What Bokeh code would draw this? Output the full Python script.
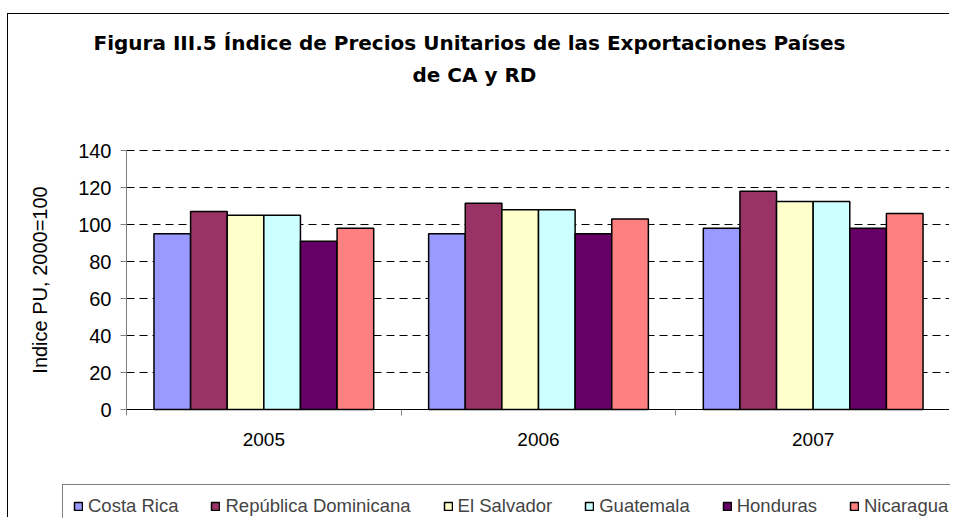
from bokeh.plotting import figure
from bokeh.models import Range1d, FixedTicker, Legend, LegendItem, Title, ColumnDataSource
from bokeh.transform import dodge
from bokeh.embed import file_html
from bokeh.resources import INLINE

# ---- data ----
years = ["2005", "2006", "2007"]
countries = ["Costa Rica", "República Dominicana", "El Salvador",
             "Guatemala", "Honduras", "Nicaragua"]
costa_rica = [95, 95, 98]
republica_dominicana = [107, 111.5, 118]
el_salvador = [105, 108, 112.5]
guatemala = [105, 108, 112.5]
honduras = [91, 95, 98]
nicaragua = [98, 103, 106]
colors = ["#9999FF", "#993366", "#FFFFCC", "#CCFFFF", "#660066", "#FF8080"]
y_ticks = [0, 20, 40, 60, 80, 100, 120, 140]
title_line1 = "Figura III.5  Índice de Precios Unitarios de las Exportaciones Países"
title_line2 = "de CA y RD"
y_label = "Indice PU, 2000=100"

series = [costa_rica, republica_dominicana, el_salvador, guatemala, honduras, nicaragua]
n = len(series)
x_center = [i + 0.5 for i in range(len(years))]
boundaries = [float(i) for i in range(len(years) + 1)]
data = {"x": x_center}
for k, s in enumerate(series):
    data[f"s{k}"] = s
source = ColumnDataSource(data)

FONT = "Liberation Sans"
TFONT = "DejaVu Sans"

# ---- layout (pixels) ----
W, H = 942, 504
FRAME_TOP = 120           # top of the drawing area (titles above it)
GRID_TOP = 136            # where the highest tick sits
AXIS_X = 118              # where the value axis sits
AXIS_Y = 395              # where the category axis sits
y_max = y_ticks[-1]
px_per_unit_y = (AXIS_Y - GRID_TOP) / y_max
x_end = len(years)
x_start = -AXIS_X * x_end / (W - AXIS_X)
y_start = -(H - AXIS_Y) / px_per_unit_y
y_end = y_max + (GRID_TOP - FRAME_TOP) / px_per_unit_y

p = figure(width=W, height=H,
           x_range=Range1d(x_start, x_end), y_range=Range1d(y_start, y_end),
           output_backend="svg", toolbar_location=None, title=None,
           min_border_left=0, min_border_right=0,
           min_border_top=FRAME_TOP, min_border_bottom=0,
           background_fill_color="white", border_fill_color="white",
           outline_line_color=None)
p.styles = {"border-left": "1px solid black", "border-top": "1px solid black",
            "margin-left": "7px", "margin-top": "13px"}

# dashed grid lines across the category span
p.xgrid.grid_line_color = None
p.ygrid.grid_line_color = None
grid_src = ColumnDataSource(dict(y=y_ticks, x0=[0] * len(y_ticks), x1=[x_end] * len(y_ticks)))
p.segment(x0="x0", y0="y", x1="x1", y1="y", source=grid_src,
          line_color="black", line_width=1, line_dash="8 5")

group = 0.8
bw = group / n
renderers = []
for k, s in enumerate(series):
    off = (k - (n - 1) / 2) * bw
    r = p.vbar(x=dodge("x", off), top=f"s{k}", width=bw, source=source,
               fill_color=colors[k], line_color="black", line_width=1.5)
    renderers.append(r)

# y axis
ya = p.yaxis[0]
ya.fixed_location = 0
ya.bounds = (0, y_max)
ya.ticker = FixedTicker(ticks=y_ticks)
ya.axis_line_color = "#808080"
ya.major_tick_line_color = "#808080"
ya.major_tick_out = 6
ya.major_tick_in = 0
ya.minor_tick_line_color = None
ya.major_label_text_font = FONT
ya.major_label_text_font_size = "20px"
ya.major_label_text_color = "black"
ya.major_label_standoff = 9
ya.axis_label = y_label
ya.axis_label_text_font = FONT
ya.axis_label_text_font_size = "20px"
ya.axis_label_text_font_style = "normal"
ya.axis_label_text_color = "black"
ya.axis_label_standoff = 24

# x axis
xa = p.xaxis[0]
xa.fixed_location = 0
xa.bounds = (0, x_end)
xa.ticker = FixedTicker(ticks=x_center, minor_ticks=boundaries)
xa.major_label_overrides = {c: y for c, y in zip(x_center, years)}
xa.major_tick_line_color = None
xa.major_tick_out = 0
xa.major_tick_in = 0
xa.minor_tick_line_color = "#808080"
xa.minor_tick_out = 6
xa.minor_tick_in = 0
xa.axis_line_color = "black"
xa.major_label_text_font = FONT
xa.major_label_text_font_size = "19px"
xa.major_label_text_color = "black"
xa.major_label_standoff = 17

# titles (first added is nearest the frame); a blank spacer first
spacer = Title(text=" ", standoff=35 - (GRID_TOP - FRAME_TOP), text_color="white",
               text_font=TFONT, text_font_size="20px")
t2 = Title(text=title_line2, align="left", offset=286 + AXIS_X, standoff=6, text_color="black",
           text_font=TFONT, text_font_style="bold", text_font_size="20px")
t1 = Title(text=title_line1, align="left", offset=-33 + AXIS_X, standoff=6, text_color="black",
           text_font=TFONT, text_font_style="bold", text_font_size="20px")
p.add_layout(spacer, "above")
p.add_layout(t2, "above")
p.add_layout(t1, "above")

# legend
legend = Legend(items=[LegendItem(label=c, renderers=[r]) for c, r in zip(countries, renderers)],
                orientation="horizontal", location=(54, -10),
                glyph_width=10, glyph_height=10, label_standoff=5, spacing=32,
                padding=10, margin=0, border_line_color="black", border_line_width=1,
                background_fill_color="white", background_fill_alpha=1,
                label_text_font=FONT, label_text_font_size="18.5px", label_height=20)
p.add_layout(legend)

open("out.html", "w").write(file_html(p, INLINE))
